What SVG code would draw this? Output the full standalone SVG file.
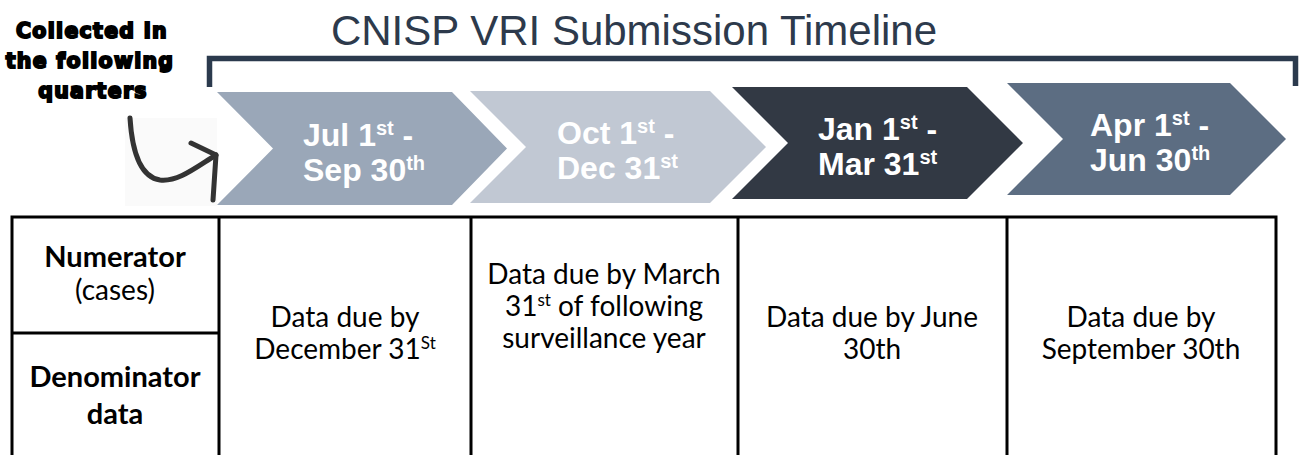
<svg xmlns="http://www.w3.org/2000/svg" width="1301" height="455" viewBox="0 0 1301 455">
<style>
.title{font-family:"Liberation Sans",Arial,sans-serif;font-size:42px;fill:#2d3a4c}
.side{font-family:"DejaVu Sans",sans-serif;font-weight:bold;font-size:20.5px;fill:#000;stroke:#000;stroke-width:1.9;letter-spacing:1.3px;text-anchor:middle}
.chev{font-family:"Liberation Sans",Arial,sans-serif;font-weight:bold;font-size:32px;fill:#fff}
.csup{font-size:20px}
.sup{font-size:17px}
.cell{font-family:Lato,"Noto Sans",sans-serif;font-size:28px;fill:#000;text-anchor:middle}
.hdr{font-weight:bold;font-size:29px}
.grid{stroke:#000;stroke-width:3;fill:none}
</style>
<rect width="1301" height="455" fill="#fff"/>
<text class="title" x="634" y="45" text-anchor="middle">CNISP VRI Submission Timeline</text>
<path d="M209.5 87 V58.5 H1295.5 V86" fill="none" stroke="#2b3a4d" stroke-width="5.5"/>
<g id="side-label">
<text class="side" x="92" y="38">Collected in</text>
<text class="side" x="90" y="68">the following</text>
<text class="side" x="93" y="98">quarters</text>
</g>
<g id="connectors">
<rect x="125" y="118" width="92" height="88" fill="#fafafa"/>
<path d="M130 118 C132 150 140 177 160 180 C178 182 195 168 216 155" fill="none" stroke="#333" stroke-width="5" stroke-linecap="round"/>
<path d="M191 143 L216 155 L213 200" fill="none" stroke="#333" stroke-width="5" stroke-linecap="round" stroke-linejoin="round"/>
</g>
<g id="q1">
<polygon points="217,92 452,92 507,148.5 452,205 217,205 273,148.5" fill="#9aa7b8"/>
<text class="chev" x="303" y="146">Jul 1<tspan class="csup" dy="-11">st</tspan><tspan dy="11"> -</tspan></text>
<text class="chev" x="303" y="181">Sep 30<tspan class="csup" dy="-11">th</tspan></text>
</g>
<g id="q2">
<polygon points="470,91 710,91 766,147 710,203 470,203 526,147" fill="#c1c8d3"/>
<text class="chev" x="557" y="144">Oct 1<tspan class="csup" dy="-11">st</tspan><tspan dy="11"> -</tspan></text>
<text class="chev" x="557" y="179">Dec 31<tspan class="csup" dy="-11">st</tspan></text>
</g>
<g id="q3">
<polygon points="732,87 967,87 1023,143 967,199 732,199 788,143" fill="#323944"/>
<text class="chev" x="818" y="140">Jan 1<tspan class="csup" dy="-11">st</tspan><tspan dy="11"> -</tspan></text>
<text class="chev" x="818" y="175">Mar 31<tspan class="csup" dy="-11">st</tspan></text>
</g>
<g id="q4">
<polygon points="1007,83 1230,83 1286,139 1230,195 1007,195 1063,139" fill="#5c6d82"/>
<text class="chev" x="1090" y="136">Apr 1<tspan class="csup" dy="-11">st</tspan><tspan dy="11"> -</tspan></text>
<text class="chev" x="1090" y="171">Jun 30<tspan class="csup" dy="-11">th</tspan></text>
</g>
<g id="table">
<path class="grid" d="M12 460 V217 H1276 V460 M219 217 V460 M471 217 V460 M738 217 V460 M1007 217 V460 M12 333 H219"/>
<text class="cell hdr" x="115" y="267">Numerator</text>
<text class="cell" x="115" y="300">(cases)</text>
<text class="cell hdr" x="115" y="387">Denominator</text>
<text class="cell hdr" x="115" y="424">data</text>
<text class="cell" x="345" y="327">Data due by</text>
<text class="cell" x="345" y="359">December 31<tspan class="sup" dy="-10">St</tspan></text>
<text class="cell" x="604" y="284">Data due by March</text>
<text class="cell" x="604" y="316">31<tspan class="sup" dy="-10">st</tspan><tspan dy="10"> of following</tspan></text>
<text class="cell" x="604" y="348">surveillance year</text>
<text class="cell" x="872" y="327">Data due by June</text>
<text class="cell" x="872" y="359">30th</text>
<text class="cell" x="1141" y="327">Data due by</text>
<text class="cell" x="1141" y="359">September 30th</text>
</g>
</svg>
